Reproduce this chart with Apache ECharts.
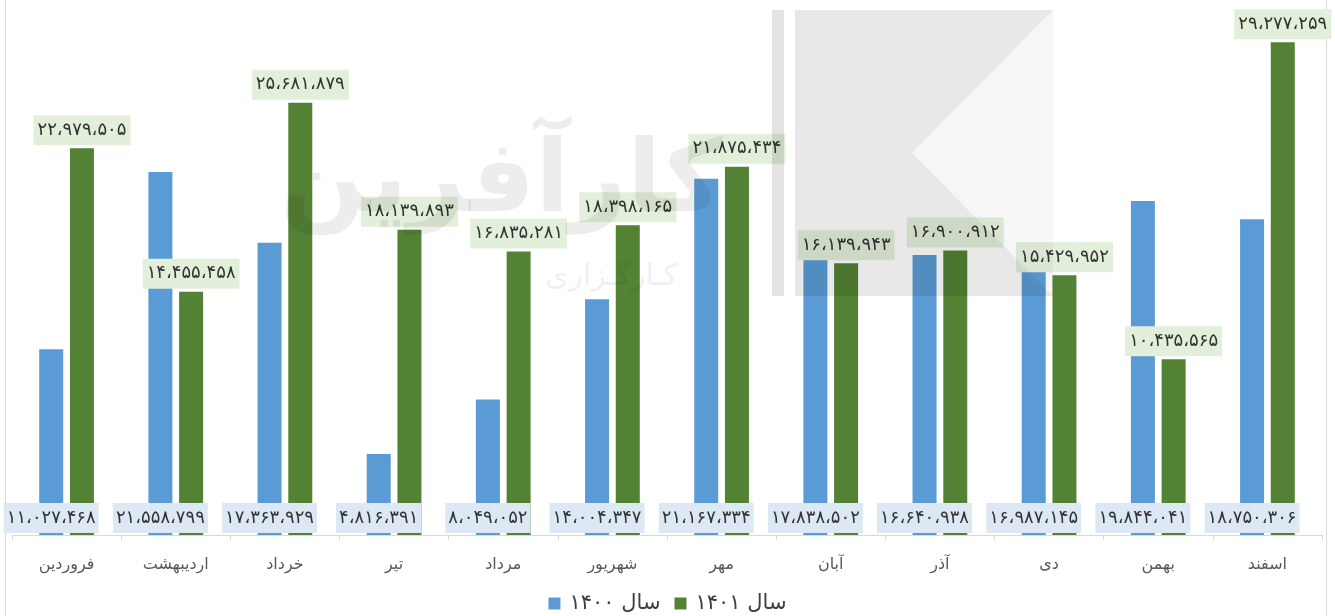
<!DOCTYPE html>
<html>
<head>
<meta charset="utf-8">
<script src="https://cdn.jsdelivr.net/npm/echarts@6/dist/echarts.min.js"></script>
<style>
html,body{margin:0;padding:0;background:#fff;}
#chart{width:1335px;height:616px;}
</style>
</head>
<body>
<div id="chart"></div>
<script>
const categories = ['فروردین','اردیبهشت','خرداد','تیر','مرداد','شهریور','مهر','آبان','آذر','دی','بهمن','اسفند'];
const values1400 = [11027468, 21558799, 17363929, 4816391, 8049052, 14004347, 21167334, 17838502, 16640938, 16987145, 19844041, 18750306];
const values1401 = [22979505, 14455458, 25681879, 18139893, 16835281, 18398165, 21875434, 16139943, 16900912, 15429952, 10435565, 29277259];
const seriesNames = ['سال ۱۴۰۰', 'سال ۱۴۰۱'];
const watermarkMain = 'کارآفرین';
const watermarkSub = 'کـارگـزاری';

const FA = '۰۱۲۳۴۵۶۷۸۹';
function fa(n) {
  return n.toLocaleString('en-US').replace(/\d/g, d => FA[+d]).replace(/,/g, '،');
}
const FONT = 'DejaVu Sans';

const chart = echarts.init(document.getElementById('chart'), null, {renderer: 'canvas'});
chart.setOption({
  animation: false,
  backgroundColor: '#ffffff',
  grid: {left: 12, right: 13, top: 30, bottom: 81, containLabel: false},
  legend: {
    data: seriesNames,
    left: 'center',
    top: 588,
    icon: 'rect',
    itemWidth: 12,
    itemHeight: 12,
    itemGap: 14,
    textStyle: {fontSize: 21, color: '#404040', fontFamily: FONT, padding: [0, 0, 0, 4]}
  },
  xAxis: {
    type: 'category',
    data: categories,
    axisLine: {lineStyle: {color: '#d9d9d9', width: 1}},
    axisTick: {show: true, length: 5, lineStyle: {color: '#d9d9d9'}},
    axisLabel: {fontSize: 16, color: '#595959', margin: 22, fontFamily: FONT}
  },
  yAxis: {
    type: 'value',
    min: 0,
    max: 30000000,
    show: false,
    splitLine: {show: false}
  },
  series: [
    {
      name: seriesNames[0],
      type: 'bar',
      data: values1400,
      barWidth: 24,
      barGap: '28%',
      itemStyle: {color: '#5b9bd5'},
      label: {
        show: true,
        position: 'insideBottom',
        distance: 2,
        formatter: p => fa(p.value),
        color: '#333333',
        fontSize: 18,
        lineHeight: 18,
        fontFamily: FONT,
        backgroundColor: '#dde8f5',
        padding: [6, 3, 6, 3]
      }
    },
    {
      name: seriesNames[1],
      type: 'bar',
      data: values1401,
      barWidth: 24,
      itemStyle: {color: '#548235'},
      label: {
        show: true,
        position: 'top',
        distance: 3,
        formatter: p => fa(p.value),
        color: '#333333',
        fontSize: 18,
        lineHeight: 18,
        fontFamily: FONT,
        backgroundColor: '#e2efda',
        padding: [6, 4, 6, 4]
      }
    }
  ],
  graphic: [
    {type: 'line', z: 1, shape: {x1: 5.5, y1: 0, x2: 5.5, y2: 616}, style: {stroke: '#d9d9d9', lineWidth: 1}},
    {type: 'line', z: 1, shape: {x1: 1326.5, y1: 0, x2: 1326.5, y2: 616}, style: {stroke: '#d9d9d9', lineWidth: 1}},
    {type: 'rect', z: 100, shape: {x: 772, y: 10, width: 12, height: 286}, style: {fill: 'rgba(0,0,0,0.11)'}},
    {type: 'polygon', z: 100, shape: {points: [[795,10],[1053,10],[912,153],[1053,296],[795,296]]}, style: {fill: 'rgba(0,0,0,0.09)'}},
    {type: 'polygon', z: 100, shape: {points: [[912,153],[1053,10],[1053,296]]}, style: {fill: 'rgba(0,0,0,0.035)'}},
    {type: 'text', z: 100, left: 280, top: 135, style: {text: watermarkMain, font: 'bold 100px "DejaVu Sans"', fill: 'rgba(0,0,0,0.07)'}},
    {type: 'text', z: 100, left: 545, top: 262, style: {text: watermarkSub, font: '30px "DejaVu Sans"', fill: 'rgba(0,0,0,0.06)'}}
  ]
});
</script>
</body>
</html>
